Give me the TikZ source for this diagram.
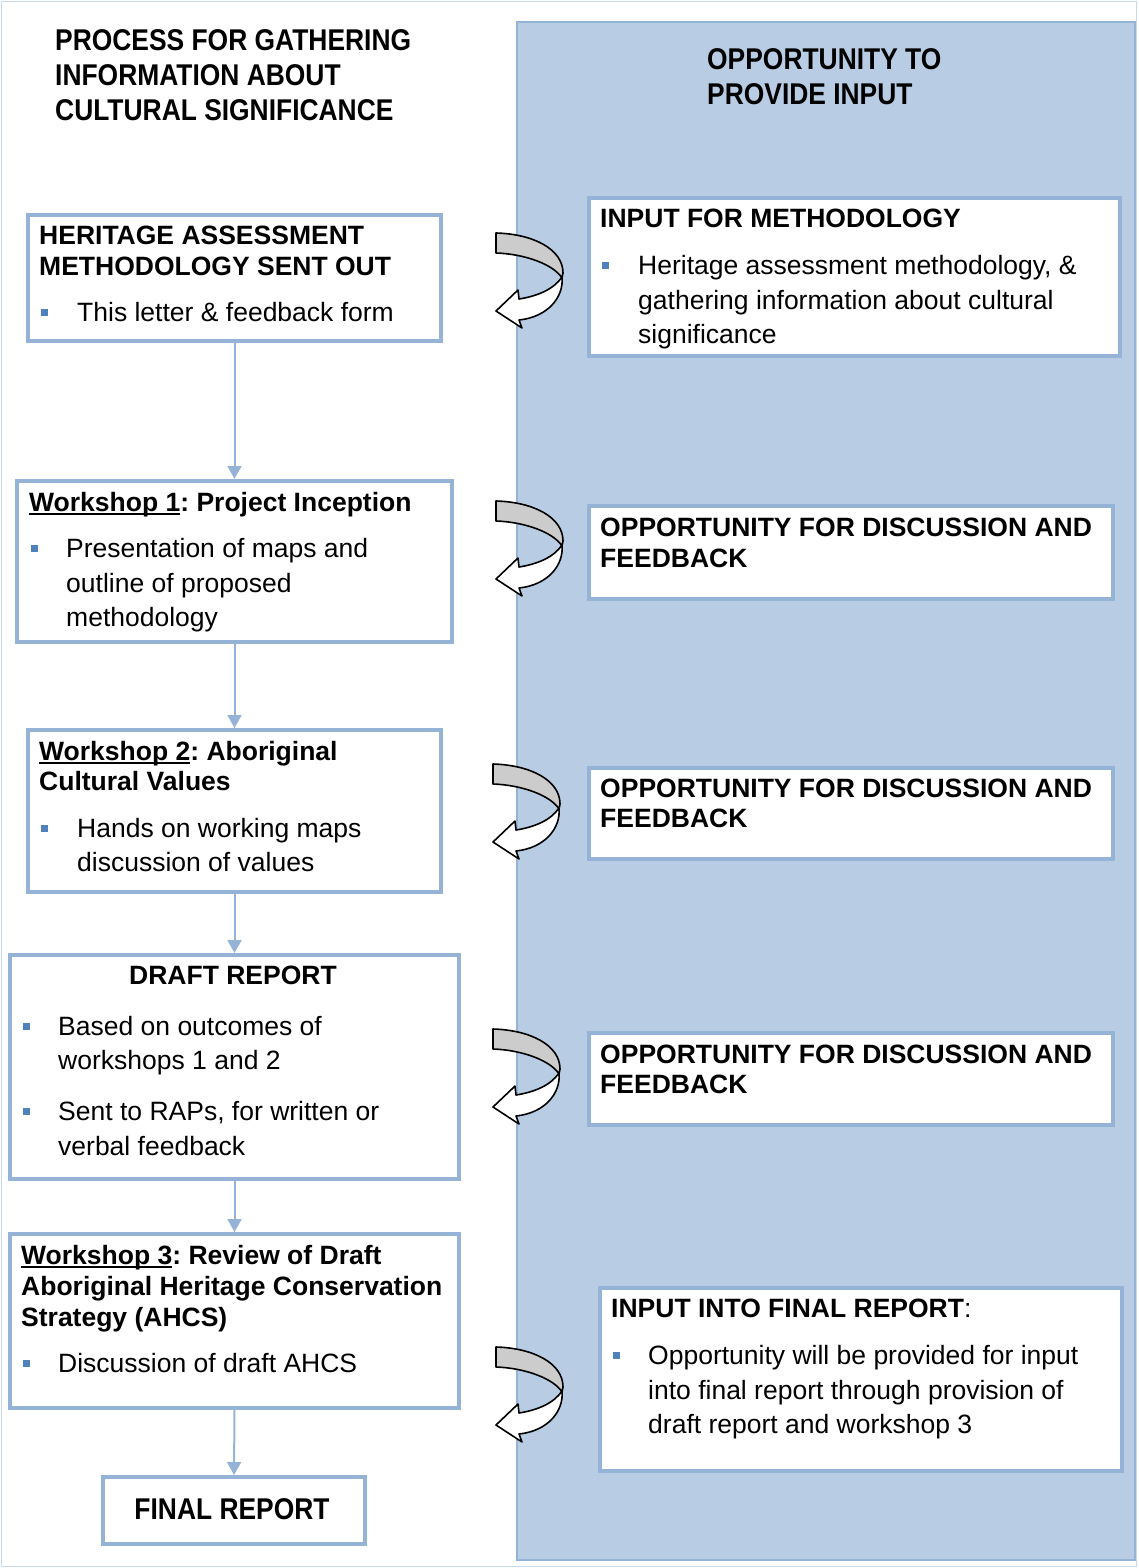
\documentclass[tikz,border=0pt]{standalone}
\usepackage{fontspec}
\setmainfont{Liberation Sans}
\newfontfamily\narrowfont[FakeStretch=0.88]{Liberation Sans}
\usetikzlibrary{arrows.meta}
\frenchspacing
\definecolor{panelfill}{HTML}{B8CCE4}
\definecolor{bordblue}{HTML}{95B3D7}
\definecolor{bulblue}{HTML}{4F81BD}
\definecolor{frameblue}{HTML}{C6D9F1}
\definecolor{bandgray}{HTML}{CCCCCC}
\newcommand\ulx[1]{\setbox0\hbox{#1}\rlap{\rule[-3.5pt]{\wd0}{1.6pt}}\box0}
\newcommand\boxat[5]{\node[pbox, anchor=north west, minimum width=#4pt, minimum height=#5pt] (#1) at (#2,#3) {};}
\newcommand\turnarrow[2]{%
\begin{scope}[shift={(#1,#2)}, line width=1.6pt, line join=round]
\filldraw[fill=bandgray] (0,0) .. controls (37,1) and (67,16) .. (67,40) -- (66,45) .. controls (58,32) and (30,21) .. (0,20) -- cycle;
\filldraw[fill=white] (66,44) .. controls (68,64) and (52,84) .. (23,87) -- (26,95) -- (0,78) -- (22,57) -- (23,66) .. controls (42,63) and (58,56) .. (66,44) -- cycle;
\end{scope}}
\begin{document}
\begin{tikzpicture}[x=1pt,y=-1pt,
  pbox/.style={draw=bordblue, line width=4pt, fill=white, inner sep=0pt},
  txt/.style={anchor=base west, inner sep=0pt, font=\fontsize{26.5}{31}\selectfont},
  hd/.style={anchor=base west, inner sep=0pt, font=\fontsize{26.5}{31}\selectfont\bfseries},
  ttl/.style={anchor=base west, inner sep=0pt, font={\narrowfont\bfseries\fontsize{30}{36}\selectfont}},
  bul/.style={fill=bulblue, minimum size=7pt, inner sep=0pt, draw=none},
  conn/.style={draw=bordblue, line width=2pt, -{Triangle[width=14pt,length=13pt]}}]
\useasboundingbox (0,0) rectangle (1138,1568);
% frame and panel
\draw[frameblue, line width=1.5pt] (1.5,1.5) rectangle (1136.5,1566.5);
\draw[bordblue, fill=panelfill, line width=2.5pt] (517,22) rectangle (1135,1560);
% left boxes
\boxat{b1}{26}{213}{413}{126}
\boxat{b2}{15}{479}{435}{161}
\boxat{b3}{26}{728}{413}{162}
\boxat{b4}{8}{953}{449}{224}
\boxat{b5}{8}{1232}{449}{174}
\boxat{b6}{101}{1475}{262}{67}
% right boxes
\boxat{r1}{587}{196}{531}{158}
\boxat{r2}{587}{504}{524}{93}
\boxat{r3}{587}{766}{524}{91}
\boxat{r4}{587}{1031}{524}{92}
\boxat{r5}{598}{1286}{522}{183}
% connectors
\draw[conn] (b1.south) -- (b2.north);
\draw[conn] (b2.south) -- (b3.north);
\draw[conn] (b3.south) -- (b4.north);
\draw[conn] (b4.south) -- (b5.north);
\draw[conn] (b5.south) -- (b6.north);
% curved arrows
\turnarrow{496}{233}
\turnarrow{496}{501}
\turnarrow{493}{764}
\turnarrow{493}{1029}
\turnarrow{496}{1347}
% titles
\node[ttl] (t1) at (55,51) {PROCESS FOR GATHERING};
\node[ttl] (t2) at (55,86) {INFORMATION ABOUT};
\node[ttl] (t3) at (55,121) {CULTURAL SIGNIFICANCE};
\node[ttl] (o1) at (707,70) {OPPORTUNITY TO};
\node[ttl] (o2) at (707,105) {PROVIDE INPUT};
% box 1
\node[hd] (b1h1) at (39,244) {HERITAGE ASSESSMENT};
\node[hd] (b1h2) at (39,275) {METHODOLOGY SENT OUT};
\node[bul] (b1s1) at (44.5,312.5) {};
\node[txt] (b1l1) at (77,321) {This letter \& feedback form};
% box 2
\node[hd] (b2h1) at (29,511) {\ulx{Workshop 1}: Project Inception};
\node[bul] (b2s1) at (34.5,548.5) {};
\node[txt] (b2l1) at (66,557) {Presentation of maps and};
\node[txt] (b2l2) at (66,592) {outline of proposed};
\node[txt] (b2l3) at (66,626) {methodology};
% box 3
\node[hd] (b3h1) at (39,760) {\ulx{Workshop 2}: Aboriginal};
\node[hd] (b3h2) at (39,790) {Cultural Values};
\node[bul] (b3s1) at (44.5,828.5) {};
\node[txt] (b3l1) at (77,837) {Hands on working maps};
\node[txt] (b3l2) at (77,871) {discussion of values};
% box 4
\node[hd, anchor=base] (b4h1) at (233,984) {DRAFT REPORT};
\node[bul] (b4s1) at (26.5,1026.5) {};
\node[txt] (b4l1) at (58,1035) {Based on outcomes of};
\node[txt] (b4l2) at (58,1069) {workshops 1 and 2};
\node[bul] (b4s2) at (26.5,1111.5) {};
\node[txt] (b4l3) at (58,1120) {Sent to RAPs, for written or};
\node[txt] (b4l4) at (58,1155) {verbal feedback};
% box 5
\node[hd] (b5h1) at (21,1264) {\ulx{Workshop 3}: Review of Draft};
\node[hd] (b5h2) at (21,1295) {Aboriginal Heritage Conservation};
\node[hd] (b5h3) at (21,1326) {Strategy (AHCS)};
\node[bul] (b5s1) at (26.5,1363.5) {};
\node[txt] (b5l1) at (58,1372) {Discussion of draft AHCS};
% box 6
\node[ttl, anchor=base] (b6h1) at (232,1519) {FINAL REPORT};
% right box 1
\node[hd] (r1h1) at (600,227) {INPUT FOR METHODOLOGY};
\node[bul] (r1s1) at (605.5,265.5) {};
\node[txt] (r1l1) at (638,274) {Heritage assessment methodology, \&};
\node[txt] (r1l2) at (638,309) {gathering information about cultural};
\node[txt] (r1l3) at (638,343) {significance};
% right boxes 2-4
\node[hd] (r2h1) at (600,536) {OPPORTUNITY FOR DISCUSSION AND};
\node[hd] (r2h2) at (600,567) {FEEDBACK};
\node[hd] (r3h1) at (600,797) {OPPORTUNITY FOR DISCUSSION AND};
\node[hd] (r3h2) at (600,827) {FEEDBACK};
\node[hd] (r4h1) at (600,1063) {OPPORTUNITY FOR DISCUSSION AND};
\node[hd] (r4h2) at (600,1093) {FEEDBACK};
% right box 5
\node[hd] (r5h1) at (611,1317) {INPUT INTO FINAL REPORT\mdseries:};
\node[bul] (r5s1) at (616.5,1355.5) {};
\node[txt] (r5l1) at (648,1364) {Opportunity will be provided for input};
\node[txt] (r5l2) at (648,1399) {into final report through provision of};
\node[txt] (r5l3) at (648,1433) {draft report and workshop 3};
\end{tikzpicture}
\end{document}
